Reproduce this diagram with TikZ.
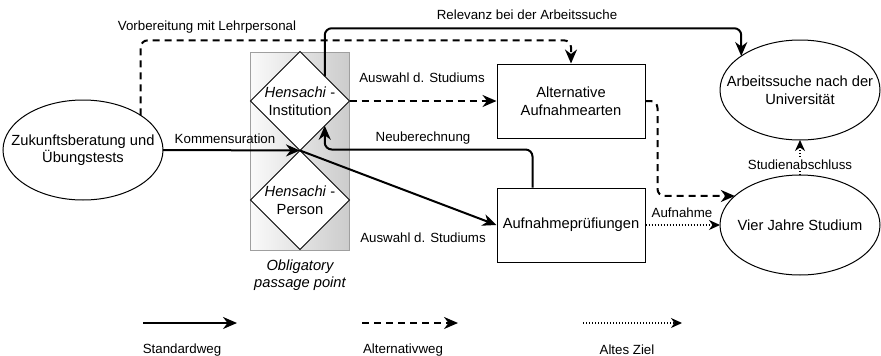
\documentclass[tikz,border=0pt]{standalone}
\usepackage{fontspec}
\setmainfont{Liberation Sans}
\usetikzlibrary{arrows.meta,shapes.geometric}
\newcommand{\nodefont}{\fontsize{14.7pt}{17.6pt}\selectfont}
\newcommand{\lblfont}{\fontsize{13.3pt}{16pt}\selectfont}
\tikzset{
  txt/.style={align=center, font=\nodefont, inner sep=0},
  ell/.style={ellipse, draw, line width=1pt, minimum width=160, minimum height=100, inner sep=0, outer sep=0},
  dia/.style={diamond, draw, fill=white, line width=1pt, minimum width=99, minimum height=99, inner sep=0, outer sep=0},
  box/.style={rectangle, draw, line width=1pt, minimum width=148, minimum height=74, inner sep=0, align=center, font=\nodefont},
  opp/.style={rectangle, draw=gray!75, line width=1pt, left color=gray!4, right color=gray!40, minimum width=99, minimum height=198, inner sep=0},
  lbl/.style={font=\lblfont, inner sep=1pt},
  std/.style={line width=2pt, -{Stealth[length=14pt, width=12pt, inset=4.5pt]}},
  alt/.style={line width=2pt, dash pattern=on 7pt off 5pt, -{Stealth[length=14pt, width=12pt, inset=4.5pt]}},
  old/.style={line width=1.2pt, dash pattern=on 1.2pt off 1.8pt, -{Stealth[length=11pt, width=10pt, inset=3.5pt]}}
}
\begin{document}
\begin{tikzpicture}[x=1pt,y=-1pt]
  \useasboundingbox (0,0) rectangle (881,356);
  \node[opp] (opp) at (299.5,151) {};
  \node[ell, label={[txt]center:{Zukunftsberatung und\\Übungstests}}] (zuk) at (83,150) {};
  \node[dia, label={[txt]center:{\textit{Hensachi} -\\Institution}}] (inst) at (300,101) {};
  \node[dia, label={[txt]center:{\textit{Hensachi} -\\Person}}] (pers) at (300,200) {};
  \node[box] (alt) at (571,101) {Alternative\\Aufnahmearten};
  \node[box] (auf) at (571,225) {Aufnahmeprüfiungen};
  \node[ell, label={[txt]center:{Arbeitssuche nach der\\Universität}}] (arb) at (800,90) {};
  \node[ell, label={[txt]center:{Vier Jahre Studium}}] (vier) at (800,225) {};
  \node[txt, font=\nodefont\itshape] (obl) at (300,275) {Obligatory\\passage point};

  \draw[alt, rounded corners=7] (zuk.31.5) -- ++(0,-75) -| (alt.north);
  \draw[std, rounded corners=7] (inst.north east) -- ++(0,-48) -| (arb.150);
  \draw[alt] (inst.east) -- (alt.west);
  \draw[std] (zuk.east) -- (inst.south);
  \draw[std] (inst.south) -- (auf.west);
  \draw[std, rounded corners=7] ([xshift=36]auf.north west) -- ++(0,-38) -| (inst.south east);
  \draw[alt, rounded corners=7] (alt.east) -- ++(12,0) |- (vier.156);
  \draw[old] (auf.east) -- (vier.west);
  \draw[old] (vier.north) -- node[lbl, fill=white, pos=0.3] (abs) {Studienabschluss} (arb.south);

  \node[lbl] (vor) at (207,27) {Vorbereitung mit Lehrpersonal};
  \node[lbl] (rel) at (527,15) {Relevanz bei der Arbeitssuche};
  \node[lbl] (aw1) at (422,78) {Auswahl d. Studiums};
  \node[lbl] (neu) at (423,138) {Neuberechnung};
  \node[lbl] (kom) at (225,139) {Kommensuration};
  \node[lbl] (aw2) at (423,238) {Auswahl d. Studiums};
  \node[lbl] (aufn) at (682,213) {Aufnahme};

  % Legende
  \coordinate (s1) at (143,323); \coordinate (s2) at (237,323);
  \coordinate (a1) at (362,323); \coordinate (a2) at (458,323);
  \coordinate (o1) at (583,323); \coordinate (o2) at (682,323);
  \draw[std] (s1) -- (s2);
  \draw[alt] (a1) -- (a2);
  \draw[old] (o1) -- (o2);
  \node[lbl] (ls) at (182,350) {Standardweg};
  \node[lbl] (la) at (403,350) {Alternativweg};
  \node[lbl] (lo) at (627,350) {Altes Ziel};
\end{tikzpicture}
\end{document}
